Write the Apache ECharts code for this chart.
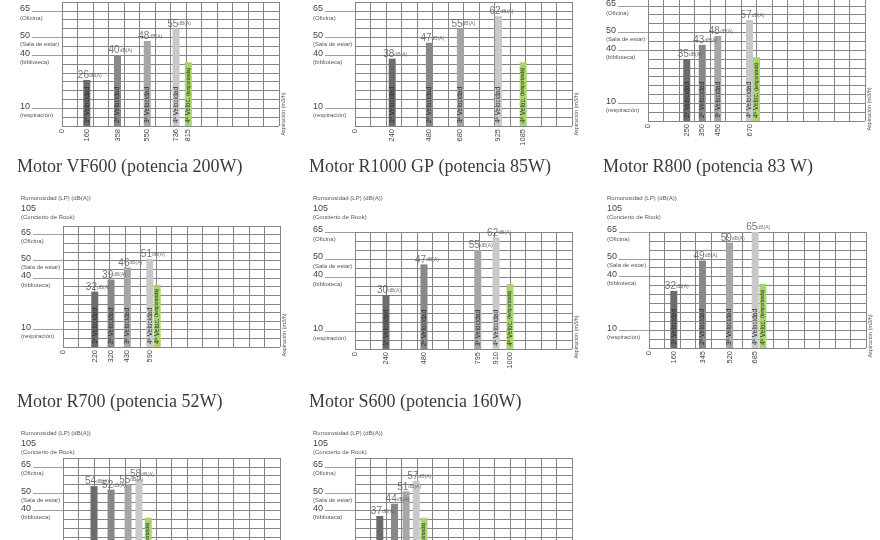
<!DOCTYPE html>
<html><head><meta charset="utf-8">
<script src="https://cdn.jsdelivr.net/npm/echarts@6.0.0/dist/echarts.min.js"></script>
<style>html,body{margin:0;padding:0;background:#fff}#c{width:880px;height:540px}</style>
</head><body><div id="c"></div>
<script>
// ---- data ----
const speedNames = ['1ª Velocidad', '2ª Velocidad', '3ª Velocidad', '4ª Velocidad', '4ª Veloc. '];
const turboNote = '(temporizada)';
const speedColors = ['#6c6c6c', '#888888', '#a6a6a6', '#c9c9c9', '#a8d46c'];
const yTickValues = [10, 40, 50, 65];
const yTickNames = ['(respiración)', '(biblioteca)', '(Sala de estar)', '(Oficina)'];
const yTopValue = '105';
const yTopName = '(Concierto de Rook)';
const yTitle = 'Rumorosidad (LP) (dB(A))';
const xTitle = 'Aspiración (m3/h)';
const unitLabel = 'dB(A)';

// top row (titles above the visible crop)
const topAPos = [160, 358, 550, 736, 815];
const topATicks = ['160', '358', '550', '736', '815'];
const topADb = [26, 40, 48, 55, 36];

const topBPos = [240, 480, 680, 925, 1085];
const topBTicks = ['240', '480', '680', '925', '1085'];
const topBDb = [38, 47, 55, 62, 36];

const topCPos = [250, 350, 450, 655, 700];
const topCTicks = ['250', '350', '450', '670', '700'];
const topCDb = [35, 43, 48, 57, 36];

// middle row
const vf600Pos = [205, 310, 415, 560, 608];
const vf600Ticks = ['220', '320', '430', '590', '600'];
const vf600Db = [32, 39, 46, 51, 36];

const r1000Pos = [200, 445, 792, 910, 1000];
const r1000Ticks = ['240', '480', '795', '910', '1000'];
const r1000Db = [30, 47, 55, 62, 36];

const r800Pos = [160, 345, 520, 685, 735];
const r800Ticks = ['160', '345', '520', '685', '735'];
const r800Db = [32, 49, 59, 65, 36];

// bottom row
const r700Pos = [200, 310, 420, 490, 550];
const r700Ticks = ['200', '310', '420', '490', '550'];
const r700Db = [54, 52, 55, 58, 36];

const s600Pos = [160, 255, 330, 395, 445];
const s600Ticks = ['160', '255', '330', '395', '445'];
const s600Db = [37, 44, 51, 57, 36];

const panelTitles = ['', '', '', 'Motor VF600 (potencia 200W)', 'Motor R1000 GP (potencia 85W)', 'Motor R800 (potencia 83 W)', 'Motor R700 (potencia 52W)', 'Motor S600 (potencia 160W)'];

// ---- layout ----
const panelLeft = [62, 355, 648, 63, 355, 649, 63, 355];
const panelTop = [2, 2, -3, 226, 232, 232, 458, 458];
const panelBottom = [126, 126, 121, 347, 349, 348, 581, 581];
const panelMax = [70, 70, 70, 70, 65, 65, 70, 70];
const panelRow = [0, 0, 0, 1, 1, 1, 2, 2];
const rowTitleTop = [null, 158, 393];
const rowHeadY = [null, 198, 433];
const rowTopValY = [null, 209, 443.5];
const rowTopNameY = [null, 217, 452];

const panels = [
  [topAPos, topATicks, topADb], [topBPos, topBTicks, topBDb], [topCPos, topCTicks, topCDb],
  [vf600Pos, vf600Ticks, vf600Db], [r1000Pos, r1000Ticks, r1000Db], [r800Pos, r800Ticks, r800Db],
  [r700Pos, r700Ticks, r700Db], [s600Pos, s600Ticks, s600Db]
];

const option = {
  animation: false,
  backgroundColor: '#ffffff',
  textStyle: { fontFamily: 'Liberation Sans' },
  grid: [], xAxis: [], yAxis: [], series: [], title: [], graphic: []
};

panels.forEach(([pos, ticks, db], i) => {
  const L = panelLeft[i], T = panelTop[i], B = panelBottom[i], row = panelRow[i];
  const W = 217;
  option.grid.push({ left: L, top: T, width: W, height: B - T, outerBoundsMode: 'none', containLabel: false });
  const tickMap = { 0: '0' };
  pos.forEach((v, j) => { tickMap[v] = ticks[j]; });
  option.xAxis.push({
    type: 'value', gridIndex: i, min: 0, max: 1400, interval: 100,
    axisLine: { show: false }, axisTick: { show: false },
    splitLine: { show: true, lineStyle: { color: '#858585', width: 1 } },
    axisLabel: {
      customValues: [0].concat(pos), formatter: v => (tickMap[v] !== undefined ? tickMap[v] : ''),
      rotate: 90, fontSize: 7.5, color: '#444', margin: 3
    }
  });
  // main value axis: grid every 5 dB
  option.yAxis.push({
    type: 'value', gridIndex: i, min: 0, max: panelMax[i], interval: 5,
    axisLine: { show: false }, axisTick: { show: false }, axisLabel: { show: false },
    splitLine: { show: true, lineStyle: { color: '#858585', width: 1 } }
  });
  const mainY = option.yAxis.length - 1;
  // reference-level axis: labelled noise levels with leader ticks
  option.yAxis.push({
    type: 'value', gridIndex: i, min: 0, max: panelMax[i], position: 'left', offset: 0,
    axisLine: { show: false }, splitLine: { show: false },
    axisTick: { show: true, customValues: yTickValues, length: 30, lineStyle: { color: '#a0a0a0' } },
    axisLabel: {
      customValues: yTickValues, margin: 42, align: 'left', padding: [4, 0, 0, 0],
      formatter: v => '{n|' + v + '}\n{d|' + yTickNames[yTickValues.indexOf(v)] + '}',
      rich: { n: { fontSize: 9, lineHeight: 10, color: '#444' }, d: { fontSize: 6, lineHeight: 8, color: '#555' } }
    }
  });
  option.series.push({
    type: 'bar', xAxisIndex: i, yAxisIndex: mainY, barWidth: 7, silent: true,
    data: pos.map((x, j) => ({ value: [x, db[j]], itemStyle: { color: speedColors[j] } })),
    label: {
      show: true, position: 'insideBottom', rotate: 90, align: 'left', verticalAlign: 'middle',
      distance: 3, fontSize: 6.5, color: '#2a2a2a',
      formatter: p => p.dataIndex === 4 ? speedNames[4] + '{s|' + turboNote + '}' : speedNames[p.dataIndex],
      rich: { s: { fontSize: 4.5, color: '#2a2a2a' } }
    }
  });
  option.series.push({
    type: 'scatter', xAxisIndex: i, yAxisIndex: mainY, symbolSize: 1, silent: true,
    itemStyle: { color: 'rgba(0,0,0,0)' },
    data: pos.slice(0, 4).map((x, j) => [x, db[j]]),
    label: {
      show: true, position: 'top', distance: 0, offset: [3, 1],
      formatter: p => '{n|' + p.value[1] + '}{u|' + unitLabel + '}',
      rich: { n: { fontSize: 10, color: '#555' }, u: { fontSize: 5, color: '#555' } }
    }
  });
  option.graphic.push({
    type: 'text', x: L + W + 4, y: B - 12, rotation: Math.PI / 2, silent: true,
    style: { text: xTitle, fontSize: 5.5, fill: '#555', align: 'center', verticalAlign: 'middle', fontFamily: 'Liberation Sans' }
  });
  if (row > 0) {
    option.title.push({
      text: panelTitles[i], left: L - 46, top: rowTitleTop[row], padding: 0,
      textStyle: { fontFamily: 'Liberation Serif', fontSize: 18, fontWeight: 'normal', color: '#3a3a3a' }
    });
    option.graphic.push({ type: 'text', x: L - 42, y: rowHeadY[row], silent: true,
      style: { text: yTitle, fontSize: 6, fill: '#555', verticalAlign: 'middle', fontFamily: 'Liberation Sans' } });
    option.graphic.push({ type: 'text', x: L - 42, y: rowTopValY[row], silent: true,
      style: { text: yTopValue, fontSize: 9, fill: '#444', verticalAlign: 'middle', fontFamily: 'Liberation Sans' } });
    option.graphic.push({ type: 'text', x: L - 42, y: rowTopNameY[row], silent: true,
      style: { text: yTopName, fontSize: 6, fill: '#555', verticalAlign: 'middle', fontFamily: 'Liberation Sans' } });
  }
});

const chart = echarts.init(document.getElementById('c'), null, { renderer: 'canvas' });
chart.setOption(option);
</script>
</body></html>
